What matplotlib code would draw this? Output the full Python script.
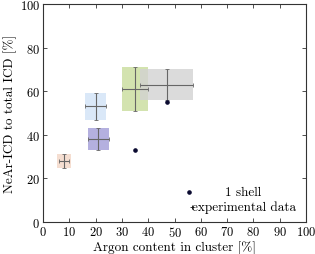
import matplotlib
matplotlib.use("Agg")
import matplotlib.pyplot as plt
from matplotlib.patches import Rectangle

plt.rcParams['font.family'] = ['cmr10', 'DejaVu Serif']
plt.rcParams['mathtext.fontset'] = 'cm'
plt.rcParams['axes.formatter.use_mathtext'] = True

# experimental data
exp_x = [8, 21, 20, 35, 47]
exp_y = [28, 38, 53, 61, 63]
exp_xerr = [2, 4, 4, 5, 10]
exp_yerr = [3, 5, 6, 10, 7]
box_w = [2.5, 4, 4, 5, 10]
box_h = [3, 5, 6, 10, 7]
box_colors = ['#f3d6c6', '#aca8dc', '#d6e6f8', '#cfe0a6', '#d2d2d2']
box_alpha = [0.8, 0.9, 0.9, 0.9, 0.8]

# 1 shell model
shell_x = [35, 47]
shell_y = [33, 55]

legend_labels = ['1 shell', 'experimental data']

fig = plt.figure(figsize=(3.15, 2.55), dpi=100)
ax = fig.add_axes([43/315, 32/255, 263/315, 218/255])

for x, y, w, h, c, a in zip(exp_x, exp_y, box_w, box_h, box_colors, box_alpha):
    ax.add_patch(Rectangle((x - w, y - h), 2 * w, 2 * h, facecolor=c,
                           edgecolor='none', alpha=a, zorder=1))

ax.errorbar(exp_x, exp_y, xerr=exp_xerr, yerr=exp_yerr, fmt='none',
            ecolor='#666666', elinewidth=0.8, capsize=1.2, capthick=0.6, zorder=2)
ax.plot(shell_x, shell_y, 'o', color='#0a0a30', markersize=2.3, zorder=3,
        linestyle='none')

# legend (LaTeX-style, centred text)
ax.plot([0.555], [0.138], 'o', color='#0a0a30', markersize=2.3,
        transform=ax.transAxes, clip_on=False)
ax.plot([0.567], [0.069], '+', color='#333333', markersize=3.5,
        markeredgewidth=0.7, transform=ax.transAxes, clip_on=False)
ax.text(0.76, 0.138, legend_labels[0], transform=ax.transAxes, ha='center',
        va='center', fontsize=9.5)
ax.text(0.766, 0.069, legend_labels[1], transform=ax.transAxes, ha='center',
        va='center', fontsize=9.5)

ax.set_xlim(0, 100)
ax.set_ylim(0, 100)
ax.set_xticks(range(0, 101, 10))
ax.set_yticks(range(0, 101, 20))
ax.tick_params(direction='in', top=True, right=True, length=3, width=0.6,
               labelsize=9, pad=2, color='#333333')
for s in ax.spines.values():
    s.set_linewidth(0.8)
    s.set_color('#333333')
ax.set_xlabel('Argon content in cluster [%]', fontsize=9.5, labelpad=1)
ax.set_ylabel('NeAr-ICD to total ICD [%]', fontsize=9.5, labelpad=2)

fig.savefig('out.png', dpi=100)
